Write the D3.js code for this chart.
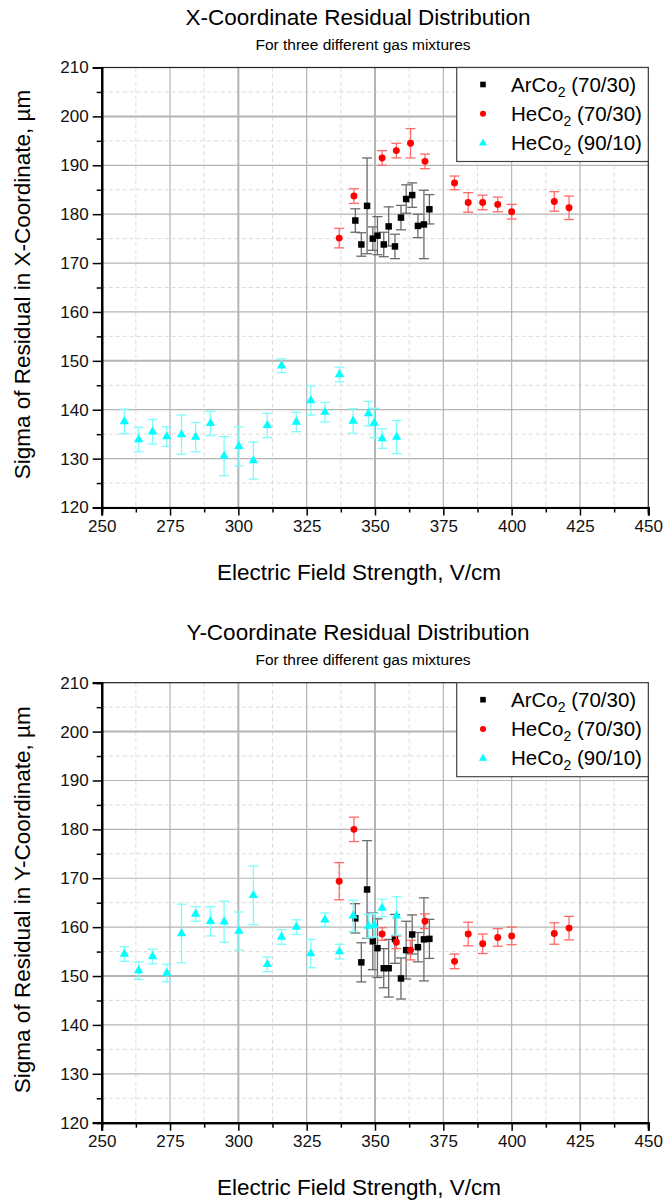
<!DOCTYPE html>
<html>
<head>
<meta charset="utf-8">
<script src="https://cdn.jsdelivr.net/npm/d3@7"></script>
<style>
  body { margin: 0; background: #fff; }
  svg { display: block; font-family: "Liberation Sans", Arial, sans-serif; }
</style>
</head>
<body>
<svg id="chart" width="666" height="1200"></svg>
<script>
// field strength (V/cm) per gas mixture
const arX  = [342.8, 345.0, 347.1, 349.2, 350.9, 353.2, 355.0, 357.3, 359.5, 361.4, 363.6, 365.7, 367.9, 369.9];
const he7X = [336.9, 342.3, 352.6, 357.8, 363.0, 368.3, 379.1, 384.1, 389.4, 394.9, 400.0, 415.6, 421.0];
const he9X = [258.3, 263.5, 268.6, 273.8, 279.2, 284.4, 289.8, 294.8, 300.2, 305.5, 310.6, 315.8, 321.2,
              326.5, 331.7, 337.0, 342.0, 347.6, 349.7, 352.6, 357.9];

// X-coordinate residual sigma (um) and errors
const arSigX  = [178.7, 173.8, 181.7, 175.0, 175.6, 173.8, 177.5, 173.4, 179.3, 183.1, 183.9, 177.6, 177.9, 181.0];
const arErrX  = [2.4, 2.4, 9.8, 2.4, 3.9, 2.5, 4.0, 2.5, 2.5, 2.9, 2.5, 2.4, 7.0, 3.0];
const he7SigX = [175.1, 183.7, 191.5, 193.0, 194.5, 190.8, 186.4, 182.4, 182.4, 182.0, 180.5, 182.6, 181.3];
const he7ErrX = [2.0, 1.5, 1.5, 1.5, 3.0, 1.5, 1.4, 2.0, 1.5, 1.5, 1.5, 2.0, 2.4];
const he9SigX = [137.6, 133.9, 135.5, 134.5, 134.9, 134.4, 137.2, 130.5, 132.5, 129.6, 136.8, 149.0, 137.5,
                 141.9, 139.5, 147.2, 137.7, 139.2, 137.3, 134.1, 134.4];
const he9ErrX = [2.5, 2.5, 2.5, 2.0, 4.0, 3.0, 2.5, 4.0, 4.0, 3.8, 2.5, 1.4, 2.0, 3.0, 2.0, 1.5, 2.5, 2.5, 3.0, 2.0, 3.4];

// Y-coordinate residual sigma (um) and errors
const arSigY  = [161.8, 152.8, 167.7, 157.1, 155.7, 151.6, 151.6, 157.6, 149.5, 155.3, 158.5, 155.9, 157.5, 157.6];
const arErrY  = [3.0, 4.0, 10.0, 5.8, 6.0, 4.0, 5.9, 5.0, 4.2, 5.9, 4.0, 3.0, 8.5, 4.0];
const he7SigY = [169.4, 180.0, 158.6, 156.9, 155.3, 161.2, 153.0, 158.6, 156.6, 157.9, 158.2, 158.7, 159.8];
const he7ErrY = [3.8, 2.5, 1.3, 1.3, 2.0, 1.5, 1.5, 2.4, 2.0, 1.8, 1.8, 2.2, 2.4];
const he9SigY = [154.5, 151.1, 154.0, 150.6, 158.7, 162.7, 161.2, 161.1, 159.2, 166.5, 152.4, 158.0, 160.0,
                 154.6, 161.5, 155.0, 162.3, 160.2, 160.4, 163.9, 162.3];
const he9ErrY = [1.5, 1.8, 1.5, 1.8, 6.0, 1.5, 3.0, 4.2, 3.9, 6.0, 1.5, 1.5, 1.5, 2.9, 1.4, 1.5, 3.2, 2.4, 2.4, 1.8, 3.9];

const xTicks = [250, 275, 300, 325, 350, 375, 400, 425, 450];
const yTicks = [120, 130, 140, 150, 160, 170, 180, 190, 200, 210];
const legendNames = [["ArCo", "(70/30)"], ["HeCo", "(70/30)"], ["HeCo", "(90/10)"]];

const svg = d3.select('#chart');
const left = 101.7, plotW = 546.6, plotH = 440;

function makeSeries(x, y, e) {
  return x.map((v, i) => ({ x: v, y: y[i], e: e[i] }));
}

function drawPanel(top, title, ylabel, sets) {
  const g = svg.append('g').attr('transform', `translate(0, ${top})`);
  const x = d3.scaleLinear().domain([250, 450]).range([left, left + plotW]);
  const y = d3.scaleLinear().domain([120, 210]).range([plotH, 0]);

  // titles
  g.append('text').attr('x', 358).attr('y', -43).attr('text-anchor', 'middle')
    .attr('font-size', 22.5).text(title);
  g.append('text').attr('x', 363).attr('y', -18).attr('text-anchor', 'middle')
    .attr('font-size', 15.5).text('For three different gas mixtures');

  // minor gridlines
  const xMinor = d3.range(262.5, 450, 25);
  const yMinor = d3.range(125, 210, 10);
  g.append('g').selectAll('line').data(xMinor).join('line')
    .attr('x1', d => x(d)).attr('x2', d => x(d)).attr('y1', 0).attr('y2', plotH)
    .attr('stroke', '#dcdcdc').attr('stroke-dasharray', '4,3');
  g.append('g').selectAll('line').data(yMinor).join('line')
    .attr('y1', d => y(d)).attr('y2', d => y(d)).attr('x1', left).attr('x2', left + plotW)
    .attr('stroke', '#dcdcdc').attr('stroke-dasharray', '4,3');
  // major gridlines
  g.append('g').selectAll('line').data(xTicks.slice(1, -1)).join('line')
    .attr('x1', d => x(d)).attr('x2', d => x(d)).attr('y1', 0).attr('y2', plotH)
    .attr('stroke', '#b4b4b4').attr('stroke-width', d => (d === 300 || d === 350) ? 2 : 1.2);
  g.append('g').selectAll('line').data(yTicks.slice(1, -1)).join('line')
    .attr('y1', d => y(d)).attr('y2', d => y(d)).attr('x1', left).attr('x2', left + plotW)
    .attr('stroke', '#b4b4b4').attr('stroke-width', d => (d === 200 || d === 150) ? 2 : 1.2);

  // frame
  g.append('rect').attr('x', left).attr('y', 0).attr('width', plotW).attr('height', plotH)
    .attr('fill', 'none').attr('stroke', '#222').attr('stroke-width', 1.2);

  // axes
  const xAxis = d3.axisBottom(x).tickValues(xTicks).tickSize(8).tickPadding(4);
  const xAxisMinor = d3.axisBottom(x).tickValues(xMinor).tickSize(5).tickFormat('');
  const yAxis = d3.axisLeft(y).tickValues(yTicks).tickSize(9).tickPadding(4);
  const yAxisMinor = d3.axisLeft(y).tickValues(yMinor).tickSize(5).tickFormat('');
  [[xAxis, `translate(0, ${plotH})`], [xAxisMinor, `translate(0, ${plotH})`],
   [yAxis, `translate(${left}, 0)`], [yAxisMinor, `translate(${left}, 0)`]].forEach(([ax, tr]) => {
    const a = g.append('g').attr('transform', tr).call(ax);
    a.select('.domain').attr('stroke', '#000').attr('stroke-width', 2.2);
    a.selectAll('.tick line').attr('stroke', '#000').attr('stroke-width', 1.5);
    a.selectAll('.tick text').attr('font-size', 17).attr('fill', '#111')
      .attr('font-family', '"Liberation Sans", Arial, sans-serif');
  });

  // axis titles
  g.append('text').attr('x', 359).attr('y', plotH + 72).attr('text-anchor', 'middle')
    .attr('font-size', 22.5).text('Electric Field Strength, V/cm');
  g.append('text').attr('transform', `translate(30, ${plotH / 2 - 3}) rotate(-90)`)
    .attr('text-anchor', 'middle').attr('font-size', 22.5).text(ylabel);

  // series
  sets.forEach(s => {
    const sg = g.append('g');
    const pts = s.data;
    sg.selectAll('line.bar').data(pts).join('line').attr('class', 'bar')
      .attr('x1', d => x(d.x)).attr('x2', d => x(d.x))
      .attr('y1', d => y(d.y - d.e)).attr('y2', d => y(d.y + d.e))
      .attr('stroke', s.bar).attr('stroke-width', 1.3);
    ['lo', 'hi'].forEach(k => {
      sg.selectAll('line.cap' + k).data(pts).join('line').attr('class', 'cap' + k)
        .attr('x1', d => x(d.x) - 5).attr('x2', d => x(d.x) + 5)
        .attr('y1', d => y(k === 'lo' ? d.y - d.e : d.y + d.e))
        .attr('y2', d => y(k === 'lo' ? d.y - d.e : d.y + d.e))
        .attr('stroke', s.bar).attr('stroke-width', 1.3);
    });
    sg.selectAll('path.mk').data(pts).join('path').attr('class', 'mk')
      .attr('transform', d => `translate(${x(d.x)}, ${y(d.y)})`)
      .attr('d', d3.symbol().type(s.symbol).size(s.size))
      .attr('fill', s.color);
  });

  // legend
  const lg = g.append('g');
  lg.append('rect').attr('x', 456.7).attr('y', 0).attr('width', left + plotW - 456.7).attr('height', 94)
    .attr('fill', '#fff').attr('stroke', '#444').attr('stroke-width', 1.2);
  legendNames.forEach((n, i) => {
    const s = sets[i];
    const ly = 17 + i * 29.3;
    lg.append('path').attr('transform', `translate(483, ${ly})`)
      .attr('d', d3.symbol().type(s.symbol).size(s.size * 0.75)).attr('fill', s.color);
    const t = lg.append('text').attr('x', 511).attr('y', ly + 7).attr('font-size', 20.5);
    t.append('tspan').text(n[0]);
    t.append('tspan').attr('font-size', 14).attr('dy', 5).text('2');
    t.append('tspan').attr('dy', -5).text(' ' + n[1]);
  });
}

const styles = [
  { color: '#000', bar: '#6a6a6a', symbol: d3.symbolSquare, size: 42 },
  { color: '#ff0000', bar: '#ff6a6a', symbol: d3.symbolCircle, size: 38 },
  { color: '#00ffff', bar: '#7ffcfc', symbol: d3.symbolTriangle, size: 38 },
];

drawPanel(67.5, 'X-Coordinate Residual Distribution', 'Sigma of Residual in X-Coordinate, \u00b5m', [
  { ...styles[0], data: makeSeries(arX, arSigX, arErrX) },
  { ...styles[1], data: makeSeries(he7X, he7SigX, he7ErrX) },
  { ...styles[2], data: makeSeries(he9X, he9SigX, he9ErrX) },
]);

drawPanel(682.7, 'Y-Coordinate Residual Distribution', 'Sigma of Residual in Y-Coordinate, \u00b5m', [
  { ...styles[0], data: makeSeries(arX, arSigY, arErrY) },
  { ...styles[1], data: makeSeries(he7X, he7SigY, he7ErrY) },
  { ...styles[2], data: makeSeries(he9X, he9SigY, he9ErrY) },
]);
</script>
</body>
</html>
